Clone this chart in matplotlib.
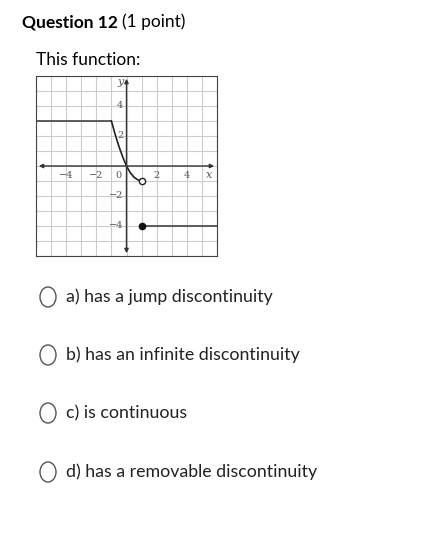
import numpy as np
import matplotlib
matplotlib.use("Agg")
import matplotlib.pyplot as plt
from matplotlib.patches import Circle

plt.rcParams['font.family'] = ['Lato', 'DejaVu Sans']
W, H = 436, 545
options = ["a) has a jump discontinuity", "b) has an infinite discontinuity",
           "c) is continuous", "d) has a removable discontinuity"]
option_y = [297, 355, 413, 472]
xticks = [-4, -2, 2, 4]
yticks = [-4, -2, 2, 4]
seg1_x = [-6, -1]; seg1_y = [3, 3]
curve_x = [-1, -0.75, -0.5, -0.25, 0, 0.25, 0.5, 0.75, 1]
curve_y = [3, 2.1, 1.3, 0.6, 0, -0.45, -0.75, -0.92, -1]
seg2_x = [1, 6]; seg2_y = [-4, -4]

fig = plt.figure(figsize=(W/100, H/100), dpi=100)
def px(x, y): return x/W, 1-y/H
fig.text(*px(22, 22), "Question 12", fontsize=12.5, weight='bold', va='center')
fig.text(*px(122, 22), "(1 point)", fontsize=12.5, va='center')
fig.text(*px(36, 60), "This function:", fontsize=12.5, va='center')
for lab, yy in zip(options, option_y):
    fig.patches.append(Circle(px(48, yy), 8/W, transform=fig.transFigure,
                              fill=False, ec='#555555', lw=1))
    fig.text(*px(66, yy), lab, fontsize=12.8, va='center', color='#222222')

ax = fig.add_axes([36/W, 1-256/H, 181/W, 180/H])
ax.set_xlim(-6, 6); ax.set_ylim(-6, 6)
ax.set_xticks(range(-6, 7)); ax.set_yticks(range(-6, 7))
ax.grid(True, color='#cccccc', lw=0.8)
ax.tick_params(length=0, labelbottom=False, labelleft=False)
for s in ax.spines.values(): s.set_color('#444444')
ax.annotate('', xy=(6, 0), xytext=(-6, 0), arrowprops=dict(arrowstyle='<|-|>', color='#333', lw=1, mutation_scale=6))
ax.annotate('', xy=(0, 6), xytext=(0, -6), arrowprops=dict(arrowstyle='<|-|>', color='#333', lw=1, mutation_scale=6))
for t in xticks:
    ax.text(t, -0.3, str(t).replace('-', '−'), ha='center', va='top', fontsize=7, family='DejaVu Serif', color='#555')
ax.text(-0.3, -0.3, '0', ha='right', va='top', fontsize=7, family='DejaVu Serif', color='#555')
for t in yticks:
    ax.text(-0.2, t, str(t).replace('-', '−'), ha='right', va='center', fontsize=7, family='DejaVu Serif', color='#555')
ax.text(5.5, -0.3, 'x', ha='center', va='top', fontsize=8, style='italic', family='DejaVu Serif', color='#555')
ax.text(-0.4, 5.6, 'y', ha='center', va='center', fontsize=8, style='italic', family='DejaVu Serif', color='#555')
ax.plot(seg1_x, seg1_y, color='#444', lw=1.2)
ax.plot(curve_x, curve_y, color='#222', lw=1.2)
ax.plot(seg2_x, seg2_y, color='#444', lw=1.2)
ax.plot([1], [-1], 'o', mfc='white', mec='#222', ms=4.5)
ax.plot([1], [-4], 'o', color='#111', ms=4.5)
fig.savefig("out.png", dpi=100)
